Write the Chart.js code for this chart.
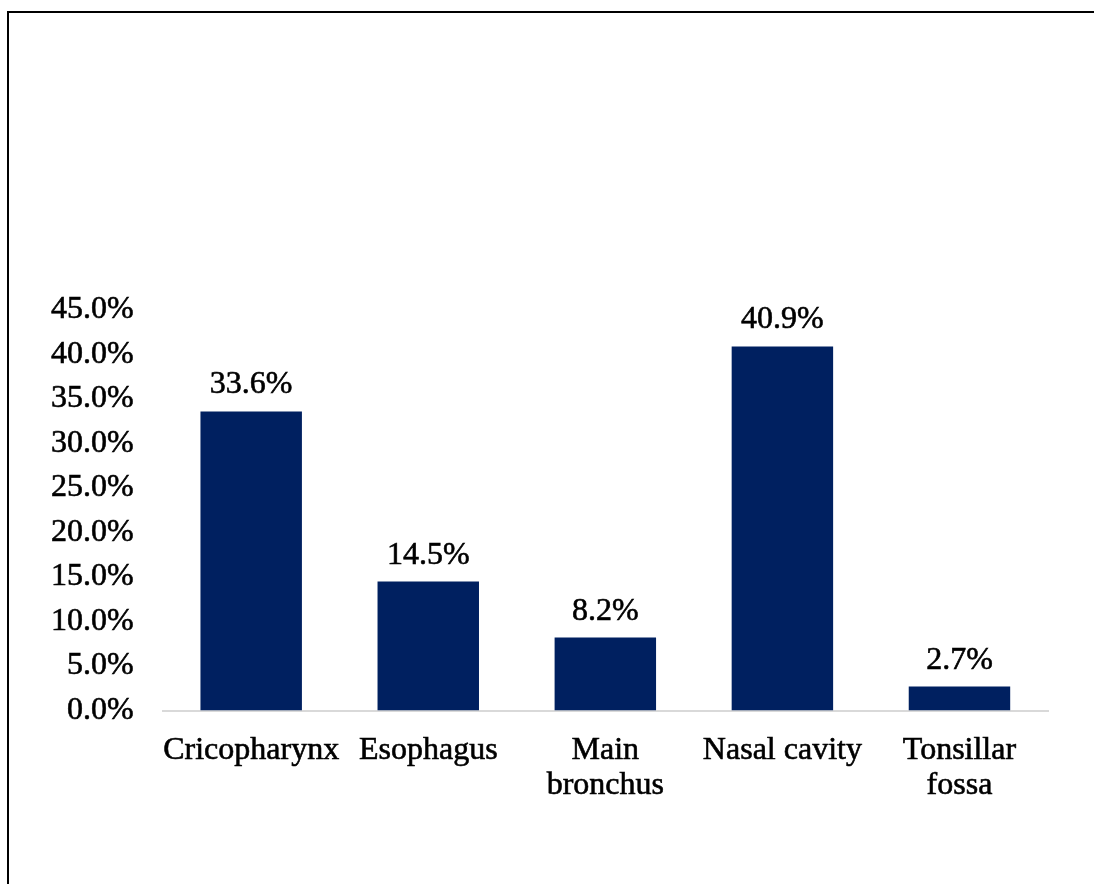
<!DOCTYPE html>
<html>
<head>
<meta charset="utf-8">
<script src="https://cdn.jsdelivr.net/npm/chart.js@4"></script>
<style>
  html, body { margin: 0; padding: 0; background: #fff; overflow: hidden; }
  #wrap { position: relative; width: 1094px; height: 884px; }
  #frame {
    position: absolute; left: 7px; top: 11px; width: 1200px; height: 1000px;
    border-left: 2px solid #000; border-top: 2px solid #000;
    pointer-events: none;
  }
  canvas { position: absolute; left: 0; top: 0; }
</style>
</head>
<body>
<div id="wrap">
  <canvas id="chart" width="1094" height="884"></canvas>
  <div id="frame"></div>
</div>
<script>
const categories = ['Cricopharynx', 'Esophagus', ['Main', 'bronchus'], 'Nasal cavity', ['Tonsillar', 'fossa']];
const shares = [33.6, 14.5, 8.2, 40.9, 2.7];
const yTicks = [0, 5, 10, 15, 20, 25, 30, 35, 40, 45];

const FONT = '"Liberation Serif", "Times New Roman", serif';

// value labels above each bar
const barLabels = {
  id: 'barLabels',
  afterDatasetsDraw(chart) {
    const ctx = chart.ctx;
    const meta = chart.getDatasetMeta(0);
    ctx.save();
    ctx.font = '32px ' + FONT;
    ctx.fillStyle = '#000';
    ctx.strokeStyle = '#000';
    ctx.lineWidth = 0.6;
    ctx.textAlign = 'center';
    ctx.textBaseline = 'alphabetic';
    meta.data.forEach((bar, i) => {
      const txt = shares[i].toFixed(1) + '%';
      ctx.fillText(txt, bar.x, bar.y - 18);
      ctx.strokeText(txt, bar.x, bar.y - 18);
    });
    ctx.restore();
  }
};

new Chart(document.getElementById('chart').getContext('2d'), {
  type: 'bar',
  data: {
    labels: categories,
    datasets: [{
      data: shares,
      backgroundColor: '#002060',
      categoryPercentage: 1,
      barPercentage: 0.573
    }]
  },
  options: {
    responsive: false,
    animation: false,
    layout: { padding: { top: 310, left: 22, right: 46, bottom: 59 } },
    plugins: {
      legend: { display: false },
      tooltip: { enabled: false }
    },
    scales: {
      x: {
        // long first label should not push the plot area to the right
        afterFit: axis => { axis.paddingLeft = 0; axis.paddingRight = 0; },
        grid: { display: false, drawTicks: false },
        border: { display: true, color: '#d9d9d9', width: 2 },
        ticks: {
          color: '#000',
          textStrokeColor: '#000',
          textStrokeWidth: 0.6,
          padding: 22,
          maxRotation: 0,
          autoSkip: false,
          font: { family: FONT, size: 32, lineHeight: 1.1 }
        }
      },
      y: {
        min: 0,
        max: 45,
        afterBuildTicks: axis => { axis.ticks = yTicks.map(v => ({ value: v })); },
        grid: { display: false, drawTicks: false },
        border: { display: false },
        ticks: {
          color: '#000',
          textStrokeColor: '#000',
          textStrokeWidth: 0.6,
          padding: 29,
          font: { family: FONT, size: 32 },
          callback: v => v.toFixed(1) + '%'
        }
      }
    }
  },
  plugins: [barLabels]
});
</script>
</body>
</html>
